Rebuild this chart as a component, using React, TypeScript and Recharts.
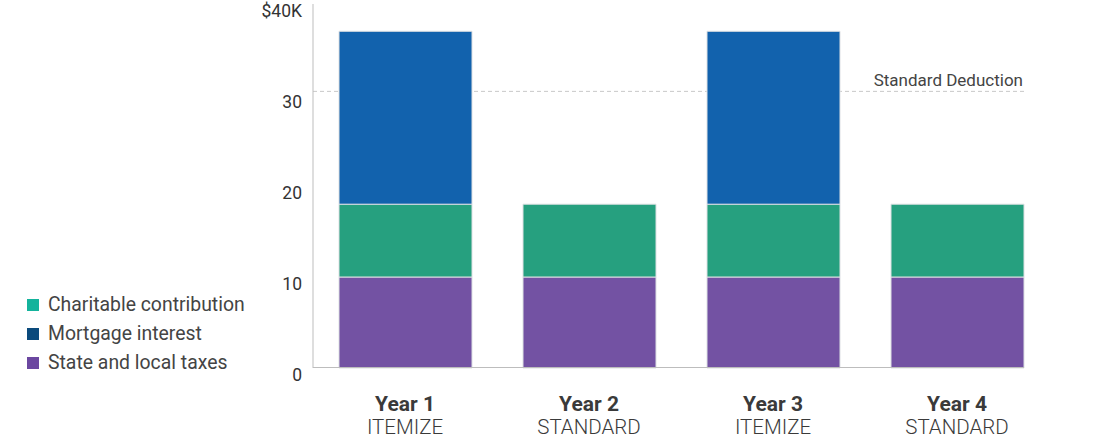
import { BarChart, Bar, XAxis, YAxis, ReferenceLine } from "recharts";

const years = ["Year 1", "Year 2", "Year 3", "Year 4"];
const strategies = ["ITEMIZE", "STANDARD", "ITEMIZE", "STANDARD"];
const stateLocalTaxes = [10, 10, 10, 10];
const charitable = [8, 8, 8, 8];
const mortgage = [19, null, 19, null];
const standardDeduction = 30.4;
const yTicks = [0, 10, 20, 30, 40];

const legendItems = [
  { label: "Charitable contribution", color: "#14b39c" },
  { label: "Mortgage interest", color: "#0b4a7c" },
  { label: "State and local taxes", color: "#6b47a0" },
];

const data = years.map((year, i) => ({
  year,
  stateLocal: stateLocalTaxes[i],
  charitable: charitable[i],
  mortgage: mortgage[i],
}));

const FONT = "Roboto, 'Noto Sans', sans-serif";

// eslint-disable-next-line @typescript-eslint/no-explicit-any
const YTick = ({ x, y, payload }: any) => (
  <text x={x + 1} y={y + 13} textAnchor="end" fontSize={17.5} fill="#333" fontFamily={FONT}>
    {payload.value === 40 ? "$40K" : payload.value}
  </text>
);

// eslint-disable-next-line @typescript-eslint/no-explicit-any
const XTick = ({ x, y, payload }: any) => (
  <g>
    <text x={x} y={y + 43} textAnchor="middle" fontSize={21} fontWeight={700} fill="#3a3a3a" fontFamily={FONT}>
      {payload.value}
    </text>
    <text x={x} y={y + 66} textAnchor="middle" fontSize={20.5} fontWeight={300} fill="#3a3a3a" fontFamily={FONT}>
      {strategies[payload.index]}
    </text>
  </g>
);

// eslint-disable-next-line @typescript-eslint/no-explicit-any
const DeductionLine = ({ x1, y1, x2 }: any) => (
  <g>
    <line x1={x1} y1={y1} x2={x2 - 25} y2={y1} stroke="#c8c8c8" strokeDasharray="4 3" strokeWidth={1} />
    <text x={x2 - 26} y={y1 - 5} textAnchor="end" fontSize={17} fill="#444" fontFamily={FONT}>
      Standard Deduction
    </text>
  </g>
);

// eslint-disable-next-line @typescript-eslint/no-explicit-any
const BaseLine = ({ x1, y1, x2 }: any) => (
  <line x1={x1} y1={y1 - 0.5} x2={x2 - 25} y2={y1 - 0.5} stroke="#bdbdbd" strokeWidth={1} />
);

export default function App() {
  return (
    <div style={{ position: "absolute", left: 0, top: 0, width: 1095, height: 448, background: "#fff", fontFamily: FONT }}>
      <BarChart
        width={1095}
        height={448}
        data={data}
        margin={{ top: 4, right: 46, bottom: 0, left: 253 }}
        barSize={133}
      >
        <XAxis
          dataKey="year"
          axisLine={false}
          tickLine={false}
          tickSize={0}
          tickMargin={0}
          height={80}
          tick={<XTick />}
          interval={0}
        />
        <YAxis
          domain={[0, 40]}
          ticks={yTicks}
          width={60}
          axisLine={{ stroke: "#bdbdbd" }}
          tickLine={false}
          tickSize={0}
          tickMargin={12}
          tick={<YTick />}
          interval={0}
        />
        <ReferenceLine y={0} shape={<BaseLine />} />
        <ReferenceLine y={standardDeduction} shape={<DeductionLine />} zIndex={0} />
        <Bar dataKey="stateLocal" stackId="a" fill="#7352a3" stroke="#dde0e3" strokeWidth={1} isAnimationActive={false} />
        <Bar dataKey="charitable" stackId="a" fill="#26a07f" stroke="#dde0e3" strokeWidth={1} isAnimationActive={false} />
        <Bar dataKey="mortgage" stackId="a" fill="#1262ad" stroke="#dde0e3" strokeWidth={1} isAnimationActive={false} />
      </BarChart>

      <div style={{ position: "absolute", left: 27, top: 290 }}>
        {legendItems.map(({ label, color }) => (
          <div key={label} style={{ display: "flex", alignItems: "center", height: 29 }}>
            <div style={{ width: 12, height: 12, background: color, marginRight: 9 }} />
            <span style={{ fontSize: 19.4, color: "#444", lineHeight: "29px" }}>{label}</span>
          </div>
        ))}
      </div>
    </div>
  );
}
